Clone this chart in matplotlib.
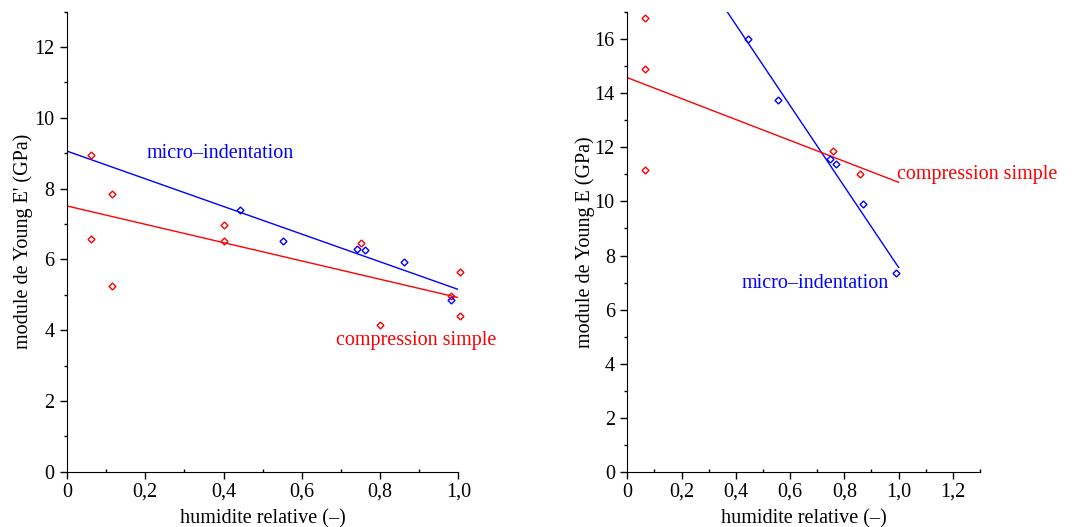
import matplotlib.pyplot as plt
import matplotlib.ticker as mticker

plt.rcParams['font.family'] = ['Liberation Serif', 'DejaVu Serif']

# --- left panel : module E' ---
hum_comp_l = [0.062, 0.062, 0.115, 0.115, 0.402, 0.402, 0.751, 0.800, 0.980, 1.003, 1.003]
E_comp_l = [8.96, 6.59, 7.85, 5.25, 6.96, 6.52, 6.45, 4.14, 4.97, 5.63, 4.40]
hum_micro_l = [0.441, 0.552, 0.742, 0.762, 0.862, 0.980]
E_micro_l = [7.41, 6.52, 6.30, 6.26, 5.92, 4.85]
fit_x = [0.0, 1.0]
fit_comp_l = [7.51, 4.92]
fit_micro_l = [9.06, 5.15]

# --- right panel : module E ---
hum_comp_r = [0.065, 0.065, 0.065, 0.759, 0.859]
E_comp_r = [16.78, 14.89, 11.18, 11.86, 11.03]
hum_micro_r = [0.446, 0.554, 0.746, 0.769, 0.869, 0.989]
E_micro_r = [16.0, 13.76, 11.56, 11.38, 9.92, 7.34]
fit_comp_r = [14.58, 10.71]
fit_micro_r = [22.53, 7.56]

fs = 14.5


def style_axes(ax, xmax, ymax):
    ax.set_xlim(0, xmax)
    ax.set_ylim(0, ymax)
    ax.spines['top'].set_visible(False)
    ax.spines['right'].set_visible(False)
    ax.xaxis.set_major_locator(mticker.MultipleLocator(0.2))
    ax.xaxis.set_minor_locator(mticker.MultipleLocator(0.1))
    ax.yaxis.set_major_locator(mticker.MultipleLocator(2))
    ax.yaxis.set_minor_locator(mticker.MultipleLocator(1))
    ax.xaxis.set_major_formatter(mticker.FuncFormatter(
        lambda v, p: '0' if abs(v) < 1e-9 else ('%.1f' % v).replace('.', ',')))
    ax.yaxis.set_major_formatter(mticker.FuncFormatter(lambda v, p: '%d' % v))
    ax.tick_params(axis='x', which='major', direction='out', length=5, width=1, labelsize=fs, pad=3)
    ax.tick_params(axis='x', which='minor', direction='in', length=2.5, width=1)
    ax.tick_params(axis='y', which='major', direction='out', length=5, width=1, labelsize=fs, pad=4)
    ax.tick_params(axis='y', which='minor', direction='out', length=2.5, width=1)
    ax.set_xlabel('humidite relative (–)', fontsize=fs, labelpad=5)


def draw_points(ax, x, y, color):
    ax.plot(x, y, ls='none', marker='D', ms=3.5, mfc='none', mec=color, mew=1, clip_on=False)


fig = plt.figure(figsize=(10.79, 5.27), dpi=100)
ax1 = fig.add_axes([0.0621, 0.1049, 0.3627, 0.8729])
ax2 = fig.add_axes([0.5814, 0.1049, 0.3268, 0.8718])

ax1.plot(fit_x, fit_micro_l, color='#0000ff', lw=1)
ax1.plot(fit_x, fit_comp_l, color='#ff0000', lw=1)
draw_points(ax1, hum_comp_l, E_comp_l, '#ff0000')
draw_points(ax1, hum_micro_l, E_micro_l, '#0000ff')
ax1.text(0.203, 8.99, 'micro–indentation', color='#0000ff', fontsize=fs, va='center')
ax1.text(0.688, 3.70, 'compression simple', color='#ff0000', fontsize=fs, va='center', clip_on=False)
style_axes(ax1, 1.0, 13)
ax1.set_ylabel("module de Young E' (GPa)", fontsize=fs, labelpad=1)

ax2.plot(fit_x, fit_micro_r, color='#0000ff', lw=1)
ax2.plot(fit_x, fit_comp_r, color='#ff0000', lw=1)
draw_points(ax2, hum_comp_r, E_comp_r, '#ff0000')
draw_points(ax2, hum_micro_r, E_micro_r, '#0000ff')
ax2.text(0.42, 6.98, 'micro–indentation', color='#0000ff', fontsize=fs, va='center')
ax2.text(0.995, 11.0, 'compression simple', color='#ff0000', fontsize=fs, va='center', clip_on=False)
style_axes(ax2, 1.3, 17)
ax2.set_ylabel('module de Young E (GPa)', fontsize=fs, labelpad=0)

fig.savefig('out.png', dpi=100)
